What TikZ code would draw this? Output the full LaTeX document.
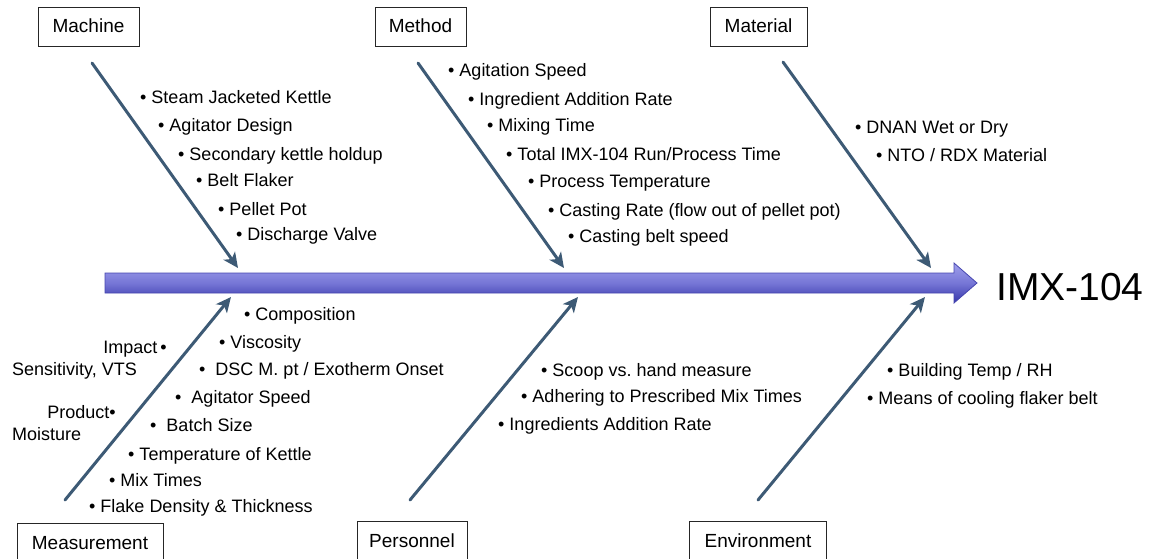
\documentclass[tikz,border=0pt]{standalone}
\usepackage{fontspec}
\setmainfont{Liberation Sans}
\usetikzlibrary{arrows.meta}
\definecolor{branchcol}{RGB}{61,90,117}
\definecolor{shafttop}{RGB}{160,160,236}
\definecolor{shaftmid}{RGB}{118,118,214}
\definecolor{shaftbot}{RGB}{55,55,170}
\definecolor{shaftedge}{RGB}{70,70,175}
\tikzset{
  catbox/.style={draw=black!85, line width=0.9pt, inner sep=0pt, minimum height=39pt,
    font=\fontsize{19}{22}\selectfont, text height=1.2em, text depth=0pt},
  item/.style={anchor=west, inner sep=0pt, font=\fontsize{18}{21}\selectfont,
    text height=0.716em, text depth=0pt, yshift=-3pt},
  itemr/.style={item, anchor=east},
  branch/.style={draw=branchcol, line width=3pt, line cap=round,
    -{Stealth[length=15pt,width=14pt,inset=4pt]}},
}
\newcommand{\bul}{\textbullet\ }
\begin{document}
\begin{tikzpicture}[x=1pt,y=-1pt]
\useasboundingbox (0,0) rectangle (1152,558);

% spine
\path[top color=shafttop, bottom color=shaftbot, middle color=shaftmid, draw=shaftedge, line width=0.8pt]
  (105,273) -- (954,273) -- (954,263) -- (977,283) -- (954,303) -- (954,293) -- (105,293) -- cycle;
\node[anchor=west, inner sep=0pt, font=\fontsize{39}{44}\selectfont, text height=0.716em, text depth=0pt, yshift=-7pt] (effect) at (996,290) {IMX-104};

% category boxes
\node[catbox, minimum width=101pt] (machine) at (88.5,26.5) {Machine};
\node[catbox, minimum width=91pt] (method) at (420.5,26.5) {Method};
\node[catbox, minimum width=97pt] (material) at (758.5,26.5) {Material};
\node[catbox, minimum width=146pt] (measurement) at (90,543) {Measurement};
\node[catbox, minimum width=110pt] (personnel) at (412,541) {Personnel};
\node[catbox, minimum width=137pt] (environment) at (758,541) {Environment};

% branch coordinates
\coordinate (mach0) at (92,63);   \coordinate (mach1) at (238,268);
\coordinate (meth0) at (418,63);  \coordinate (meth1) at (564,268);
\coordinate (mat0) at (783,62);   \coordinate (mat1) at (931,268);
\coordinate (meas0) at (65,500);  \coordinate (meas1) at (231,297);
\coordinate (pers0) at (410,500); \coordinate (pers1) at (578,297);
\coordinate (env0) at (758,500);  \coordinate (env1) at (925,297);

\draw[branch] (mach0) -- (mach1);
\draw[branch] (meth0) -- (meth1);
\draw[branch] (mat0) -- (mat1);
\draw[branch] (meas0) -- (meas1);
\draw[branch] (pers0) -- (pers1);
\draw[branch] (env0) -- (env1);

% Machine items
\node[item] (mc1) at (140,97) {\bul Steam Jacketed Kettle};
\node[item] (mc2) at (158,125) {\bul Agitator Design};
\node[item] (mc3) at (178,154) {\bul Secondary kettle holdup};
\node[item] (mc4) at (196,180) {\bul Belt Flaker};
\node[item] (mc5) at (218,209) {\bul Pellet Pot};
\node[item] (mc6) at (236,234) {\bul Discharge Valve};

% Method items
\node[item] (me1) at (448,70) {\bul Agitation Speed};
\node[item] (me2) at (468,99) {\bul Ingredient Addition Rate};
\node[item] (me3) at (487,125) {\bul Mixing Time};
\node[item] (me4) at (506,154) {\bul Total IMX-104 Run/Process Time};
\node[item] (me5) at (528,181) {\bul Process Temperature};
\node[item] (me6) at (548,210) {\bul Casting Rate (flow out of pellet pot)};
\node[item] (me7) at (568,236) {\bul Casting belt speed};

% Material items
\node[item] (ma1) at (855,127) {\bul DNAN Wet or Dry};
\node[item] (ma2) at (876,155) {\bul NTO / RDX Material};

% Measurement items
\node[item] (ms1) at (244,314) {\bul Composition};
\node[item] (ms2) at (219,342) {\bul Viscosity};
\node[item] (ms3) at (199,369) {\textbullet\hspace{10pt}DSC M.\ pt / Exotherm Onset};
\node[item] (ms4) at (175,397) {\textbullet\hspace{10pt}Agitator Speed};
\node[item] (ms5) at (150,425) {\textbullet\hspace{10pt}Batch Size};
\node[item] (ms6) at (128,454) {\bul Temperature of Kettle};
\node[item] (ms7) at (109,480) {\bul Mix Times};
\node[item] (ms8) at (89,506) {\bul Flake Density \& Thickness};
\node[itemr] (ms9) at (167,347) {Impact\,\textbullet};
\node[item] (ms10) at (12,369) {Sensitivity, VTS};
\node[itemr] (ms11) at (116,412) {Product\textbullet};
\node[item] (ms12) at (12,434) {Moisture};

% Personnel items
\node[item] (pe1) at (541,370) {\bul Scoop vs.\ hand measure};
\node[item] (pe2) at (521,396) {\bul Adhering to Prescribed Mix Times};
\node[item] (pe3) at (498,424) {\bul Ingredients Addition Rate};

% Environment items
\node[item] (en1) at (887,370) {\bul Building Temp / RH};
\node[item] (en2) at (867,398) {\bul Means of cooling flaker belt};
\end{tikzpicture}
\end{document}
